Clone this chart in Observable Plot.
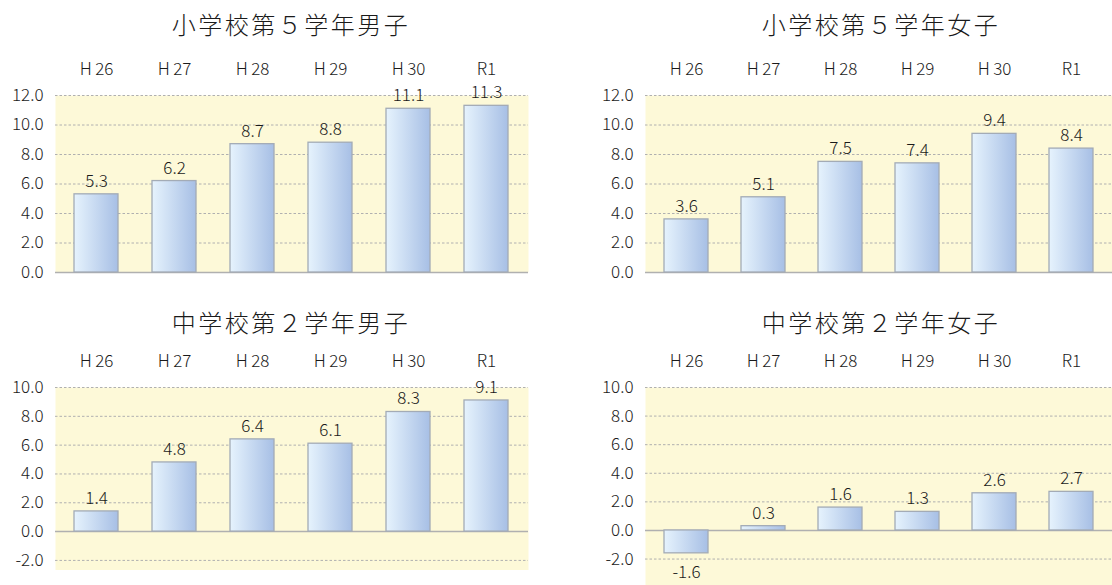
<!DOCTYPE html>
<html><head><meta charset="utf-8">
<script src="https://cdn.jsdelivr.net/npm/d3@7"></script>
<script src="https://cdn.jsdelivr.net/npm/@observablehq/plot@0.6"></script>
<style>
body{margin:0;background:#fff;width:1112px;height:585px;overflow:hidden;position:relative;font-family:"Noto Sans CJK JP","Noto Sans",sans-serif;}
.title{position:absolute;text-align:center;font-size:24px;color:#1a1a1a;letter-spacing:2.5px;font-weight:300;}
.panel{position:absolute;}
</style></head><body>
<script>
const years = ["H\u200926","H\u200927","H\u200928","H\u200929","H\u200930","R1"];
const titles = ["小学校第５学年男子","小学校第５学年女子","中学校第２学年男子","中学校第２学年女子"];
const elemBoys = [5.3, 6.2, 8.7, 8.8, 11.1, 11.3];
const elemGirls = [3.6, 5.1, 7.5, 7.4, 9.4, 8.4];
const juniorBoys = [1.4, 4.8, 6.4, 6.1, 8.3, 9.1];
const juniorGirls = [-1.6, 0.3, 1.6, 1.3, 2.6, 2.7];
const ticksTop = [0, 2, 4, 6, 8, 10, 12];
const ticksBottom = [-2, 0, 2, 4, 6, 8, 10];

const panels = [
  {title: titles[0], values: elemBoys, ticks: ticksTop, domain: [0, 12], left: 0, top: 48, width: 540, height: 234, mt: 47, mb: 10, mr: 12, titleX: 291, titleY: 6},
  {title: titles[1], values: elemGirls, ticks: ticksTop, domain: [0, 12], left: 590, top: 48, width: 522, height: 234, mt: 47, mb: 10, mr: 0, titleX: 881, titleY: 6},
  {title: titles[2], values: juniorBoys, ticks: ticksBottom, domain: [-2.7, 10], left: 0, top: 340, width: 540, height: 230, mt: 47, mb: 0, mr: 12, titleX: 291, titleY: 304},
  {title: titles[3], values: juniorGirls, ticks: ticksBottom, domain: [-3.85, 10], left: 590, top: 340, width: 522, height: 245, mt: 47, mb: 0, mr: 0, titleX: 881, titleY: 304}
];

const numFont = '"Noto Sans CJK JP","Noto Sans",sans-serif';

panels.forEach((p, i) => {
  const t = document.createElement("div");
  t.className = "title";
  t.textContent = p.title;
  t.style.left = (p.titleX - 200) + "px";
  t.style.width = "400px";
  t.style.top = p.titleY + "px";
  document.body.appendChild(t);

  const data = years.map((y, k) => ({year: y, value: p.values[k]}));
  const gid = "barGrad" + i;
  const defs = () => {
    const g = d3.create("svg:defs");
    const lg = g.append("linearGradient").attr("id", gid).attr("x1", "0%").attr("x2", "100%").attr("y1", "0%").attr("y2", "0%");
    lg.append("stop").attr("offset", "0%").attr("stop-color", "#e6f3fd");
    lg.append("stop").attr("offset", "100%").attr("stop-color", "#a7bfe5");
    return g.node();
  };
  const chart = Plot.plot({
    width: p.width,
    height: p.height,
    marginTop: p.mt,
    marginBottom: p.mb,
    marginLeft: 55,
    marginRight: p.mr,
    style: {fontFamily: numFont, fontSize: "17px", fontWeight: 300, color: "#1a1a1a", background: "transparent"},
    x: {domain: years, paddingInner: 0.43, paddingOuter: 0.215, axis: null},
    y: {domain: p.domain, axis: null},
    marks: [
      defs,
      Plot.frame({fill: "#fdf9d8", stroke: null}),
      Plot.ruleY(p.ticks.filter(d => d !== 0), {stroke: "#b0b0b0", strokeWidth: 1, strokeDasharray: "2.5,2"}),
      Plot.ruleY([0], {stroke: "#b0b0b0", strokeWidth: 1.5}),
      Plot.barY(data, {x: "year", y: "value", fill: `url(#${gid})`, stroke: "#a3abb6", strokeWidth: 1.3}),
      Plot.text(data.filter(d => d.value >= 0), {x: "year", y: "value", text: d => d.value.toFixed(1), dy: -13, lineAnchor: "middle", fill: "#1a1a1a", fontSize: 17}),
      Plot.text(data.filter(d => d.value < 0), {x: "year", y: "value", text: d => d.value.toFixed(1), dy: 19, lineAnchor: "middle", fill: "#1a1a1a", fontSize: 17}),
      Plot.text(years, {x: d => d, frameAnchor: "top", dy: -26, lineAnchor: "middle", fill: "#1a1a1a", fontSize: 17}),
      Plot.axisY({ticks: p.ticks, tickSize: 0, tickPadding: 12, tickFormat: d => d.toFixed(1), label: null, fontSize: 17, fill: "#1a1a1a"})
    ]
  });
  chart.classList.add("panel");
  chart.style.left = p.left + "px";
  chart.style.top = p.top + "px";
  document.body.appendChild(chart);
});
</script>
</body></html>
